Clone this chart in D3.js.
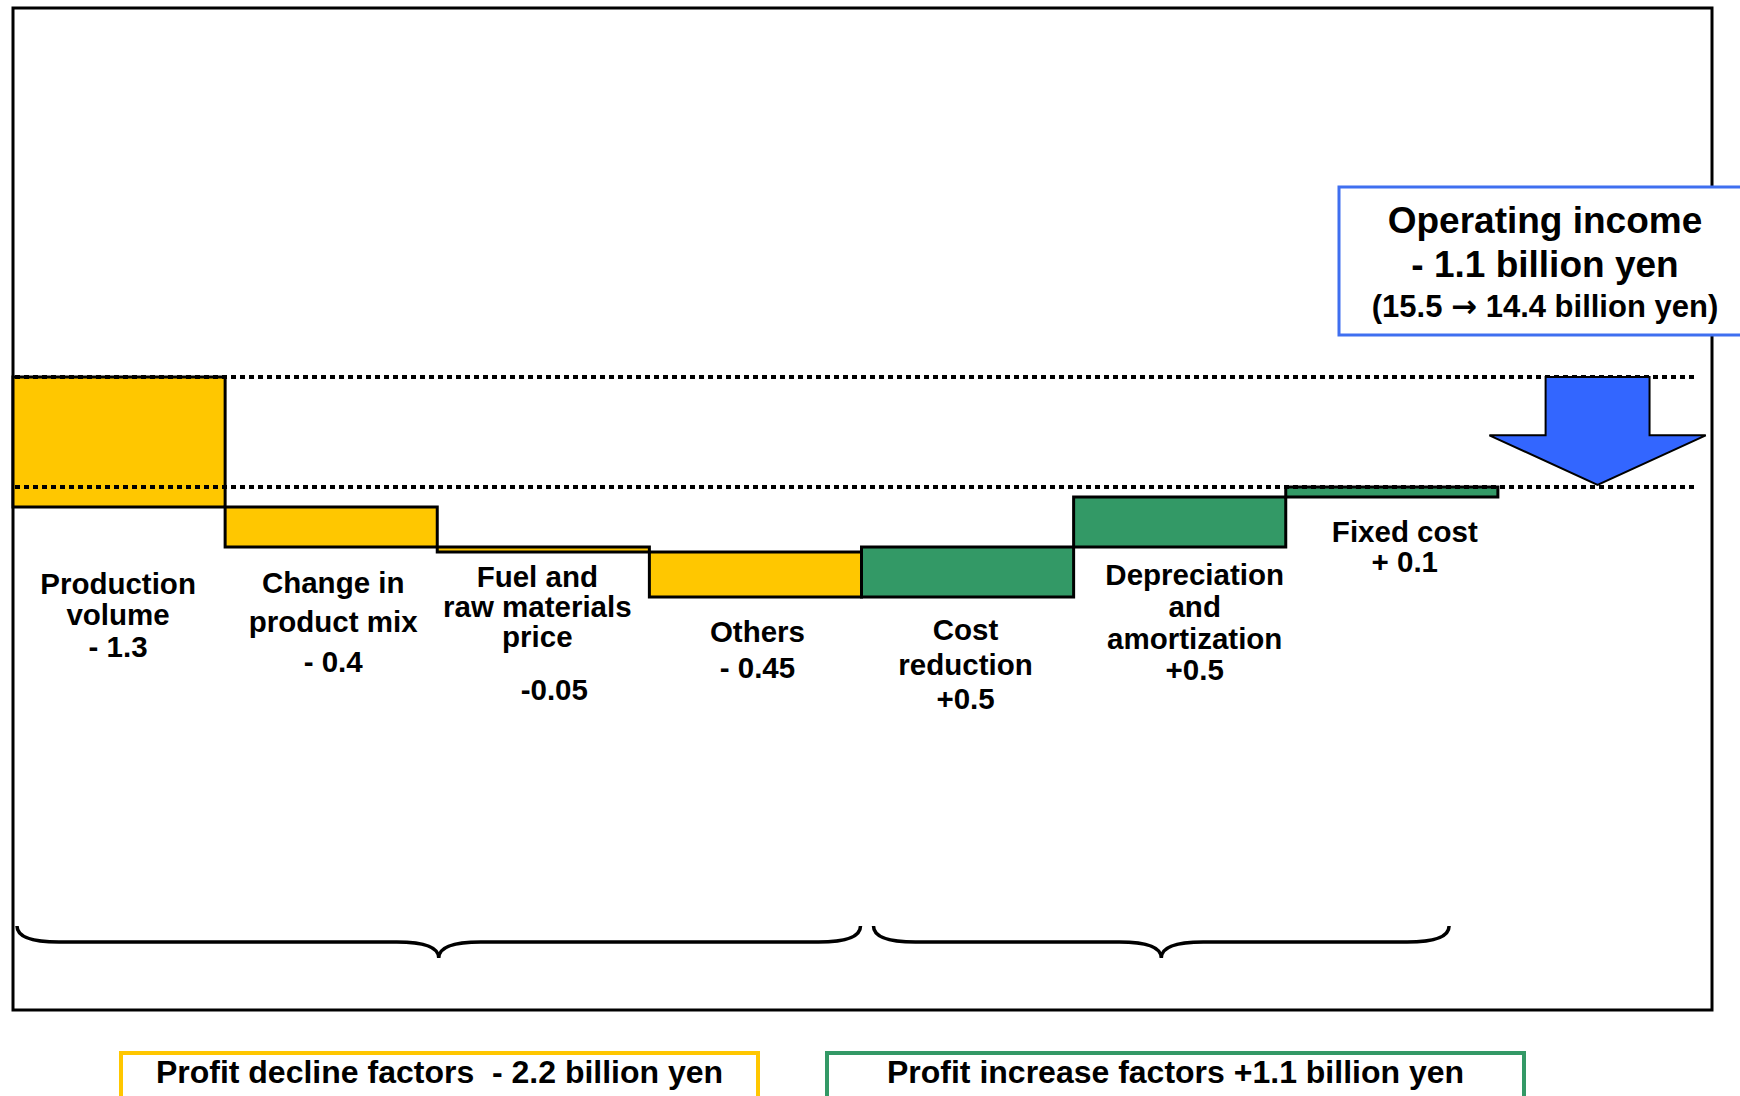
<!DOCTYPE html>
<html>
<head>
<meta charset="utf-8">
<script src="https://cdn.jsdelivr.net/npm/d3@7"></script>
<style>
  body { margin: 0; background: #fff; }
  svg text { font-family: "Liberation Sans", Arial, sans-serif; font-weight: bold; fill: #000; }
</style>
</head>
<body>
<div id="chart"></div>
<script>
// DATA
var categories = ["Production volume", "Change in product mix", "Fuel and raw materials price",
                  "Others", "Cost reduction", "Depreciation and amortization", "Fixed cost"];
var deltas = [-1.3, -0.4, -0.05, -0.45, 0.5, 0.5, 0.1];
var startValue = 15.5;   // billion yen
var endValue = 14.4;
var labelLines = [
    ["Production", "volume", "- 1.3"],
    ["Change in", "product mix", "- 0.4"],
    ["Fuel and", "raw materials", "price", "-0.05"],
    ["Others", "- 0.45"],
    ["Cost", "reduction", "+0.5"],
    ["Depreciation", "and", "amortization", "+0.5"],
    ["Fixed cost", "+ 0.1"]
];
var boxLines = ["Operating income", "- 1.1 billion yen", ["(15.5 ", "\u2192", " 14.4 billion yen)"]];
var groupLegend = ["Profit decline factors  - 2.2 billion yen", "Profit increase factors +1.1 billion yen"];

// LAYOUT (positions kept out of the data)
var W = 1740, H = 1096;
var yellow = "#FFC700", green = "#339966", blue = "#3366FF";
// per label line: [dx from bar centre, baseline y]
var labelPos = [
    [[-1, 594], [-1, 625], [-1, 657]],
    [[2, 593], [2, 632], [2, 672]],
    [[-6, 587], [-6, 617], [-6, 647], [11, 700]],
    [[2, 642], [2, 678]],
    [[-2, 640], [-2, 675], [-2, 709]],
    [[15, 585], [15, 617], [15, 649], [15, 680]],
    [[13, 542], [13, 572]]
];

var svg = d3.select("#chart").append("svg")
    .attr("width", W)
    .attr("height", H);

// waterfall steps
var steps = [];
var level = startValue;
for (var i = 0; i < deltas.length; i++) {
    steps.push({ key: categories[i], from: level, to: level + deltas[i], d: deltas[i], idx: i });
    level = level + deltas[i];
}

var x = d3.scaleBand().domain(categories.concat(["total"])).range([13, 1710]).padding(0);
var y = d3.scaleLinear().domain([startValue, endValue]).range([377, 487]);
var bw = x.bandwidth();

// frame
svg.append("rect")
    .attr("x", 13).attr("y", 8)
    .attr("width", 1699).attr("height", 1002)
    .attr("fill", "none").attr("stroke", "#000").attr("stroke-width", 3);

// bars
svg.append("g").selectAll("rect")
    .data(steps)
    .enter().append("rect")
    .attr("x", function(d) { return x(d.key); })
    .attr("y", function(d) { return y(Math.max(d.from, d.to)); })
    .attr("width", bw)
    .attr("height", function(d) { return Math.abs(y(d.to) - y(d.from)); })
    .attr("fill", function(d) { return d.d < 0 ? yellow : green; })
    .attr("stroke", "#000")
    .attr("stroke-width", 3);

// dotted reference lines at start and end levels
svg.append("g").selectAll("line")
    .data([startValue, endValue])
    .enter().append("line")
    .attr("x1", 15).attr("x2", 1698)
    .attr("y1", function(d) { return y(d); })
    .attr("y2", function(d) { return y(d); })
    .attr("stroke", "#000")
    .attr("stroke-width", 4)
    .attr("stroke-dasharray", "5,4");

// down arrow in the total slot
var ax = x("total") + bw * 0.47;
var shaft = bw * 0.245, head = bw * 0.51;
var yHead = y(startValue) + (y(endValue) - y(startValue)) * 0.53;
svg.append("path")
    .attr("d", "M" + (ax - shaft) + "," + y(startValue) +
        " L" + (ax + shaft) + "," + y(startValue) +
        " L" + (ax + shaft) + "," + yHead +
        " L" + (ax + head) + "," + yHead +
        " L" + ax + "," + (y(endValue) - 2) +
        " L" + (ax - head) + "," + yHead +
        " L" + (ax - shaft) + "," + yHead + " Z")
    .attr("fill", blue)
    .attr("stroke", "#000")
    .attr("stroke-width", 2);

// labels under the bars
var lab = svg.append("g").attr("text-anchor", "middle").style("font-size", "29.5px");
steps.forEach(function(d) {
    labelLines[d.idx].forEach(function(t, j) {
        var p = labelPos[d.idx][j];
        lab.append("text")
            .attr("x", x(d.key) + bw / 2 + p[0])
            .attr("y", p[1])
            .text(t);
    });
});

// operating income box
svg.append("rect")
    .attr("x", 1339).attr("y", 187)
    .attr("width", 420).attr("height", 148)
    .attr("fill", "#fff").attr("stroke", "#3F6FF0").attr("stroke-width", 3);
var bsz = ["37px", "37px", "31px"], by = [233, 277, 317];
boxLines.forEach(function(t, j) {
    var tx = svg.append("text")
        .attr("x", 1545).attr("y", by[j])
        .attr("text-anchor", "middle")
        .style("font-size", bsz[j]);
    if (typeof t === "string") {
        tx.text(t);
    } else {
        tx.append("tspan").text(t[0]);
        tx.append("tspan").style("font-family", "DejaVu Sans").text(t[1]);
        tx.append("tspan").text(t[2]);
    }
});

// braces grouping decline / increase factors
function brace(x1, x2) {
    var y0 = 926, y1 = 942, y2 = 958, xm = (x1 + x2) / 2, c = 42;
    return "M" + x1 + "," + y0 +
        " Q" + x1 + "," + y1 + " " + (x1 + c) + "," + y1 +
        " L" + (xm - c) + "," + y1 +
        " Q" + xm + "," + y1 + " " + xm + "," + y2 +
        " Q" + xm + "," + y1 + " " + (xm + c) + "," + y1 +
        " L" + (x2 - c) + "," + y1 +
        " Q" + x2 + "," + y1 + " " + x2 + "," + y0;
}
var braceSpans = [
    [x(categories[0]) + 4, x(categories[3]) + bw - 1],
    [x(categories[4]) + 12, x(categories[6]) + bw * 0.77]
];
svg.append("g").selectAll("path")
    .data(braceSpans)
    .enter().append("path")
    .attr("d", function(d) { return brace(d[0], d[1]); })
    .attr("fill", "none")
    .attr("stroke", "#000")
    .attr("stroke-width", 3.5);

// legend boxes at the bottom
var legBox = [[121, 758, yellow], [827, 1524, green]];
legBox.forEach(function(b, j) {
    svg.append("rect")
        .attr("x", b[0]).attr("y", 1053)
        .attr("width", b[1] - b[0]).attr("height", 70)
        .attr("fill", "#fff").attr("stroke", b[2]).attr("stroke-width", 4);
    svg.append("text")
        .attr("x", (b[0] + b[1]) / 2).attr("y", 1083)
        .attr("text-anchor", "middle")
        .style("font-size", "32px")
        .style("white-space", "pre")
        .text(groupLegend[j]);
});
</script>
</body>
</html>
